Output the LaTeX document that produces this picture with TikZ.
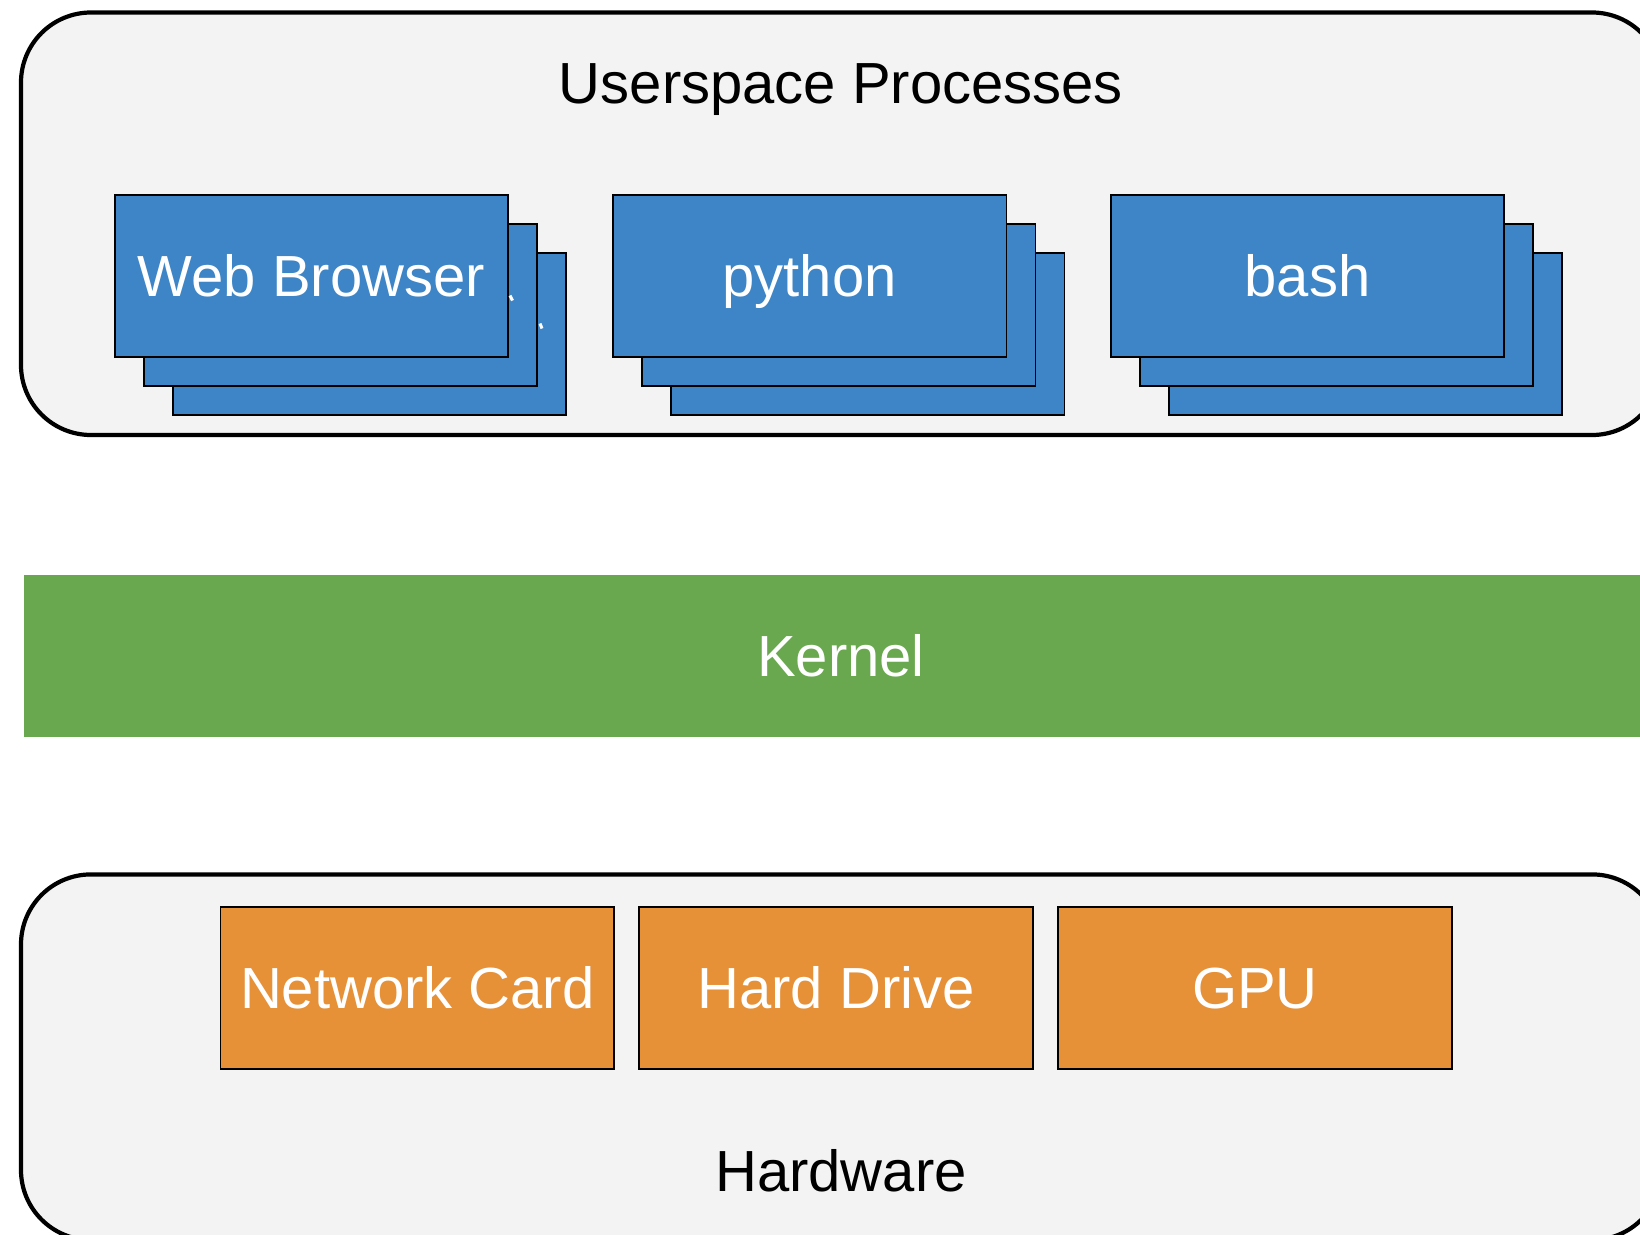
\documentclass[tikz,border=0pt]{standalone}
\usepackage{fontspec}
\setmainfont{Liberation Sans}
\definecolor{procblue}{HTML}{3D85C6}
\definecolor{kgreen}{HTML}{6AA84F}
\definecolor{hworange}{HTML}{E69138}
\definecolor{panelgray}{HTML}{F3F3F3}
\tikzset{
  panel/.style={draw=black, line width=4.2pt, fill=panelgray, rounded corners=70pt,
    inner sep=0pt, outer sep=0pt},
  procbox/.style={draw=black, line width=1.6pt, fill=procblue, text=white,
    minimum width=393.5pt, minimum height=162pt, inner sep=0pt, outer sep=0pt,
    font=\fontsize{58}{68}\selectfont, text height=41.5pt, text depth=0pt},
  hwbox/.style={procbox, fill=hworange},
  kernelbar/.style={fill=kgreen, text=white, minimum width=1634pt, minimum height=161.7pt,
    inner sep=0pt, outer sep=0pt, font=\fontsize{58}{68}\selectfont,
    text height=41.5pt, text depth=0pt},
  title/.style={text=black, inner sep=0pt, font=\fontsize{58}{68}\selectfont,
    text height=41.5pt, text depth=0pt},
  glint/.style={draw=white, line width=3pt}
}
\begin{document}
\begin{tikzpicture}[x=1pt,y=-1pt]
\useasboundingbox (0,0) rectangle (1640,1234);
\clip (0,0) rectangle (1640,1234);
\fill[white] (0,0) rectangle (1640,1234);

% Userspace panel
\node[panel, minimum width=1641pt, minimum height=422.5pt] (user) at (841.5,223.75) {};
\node[title] (usertitle) at (841,83) {Userspace Processes};

% Web Browser stack
\node[procbox] (web3) at (369.5,333.8) {};
\node[procbox] (web2) at (340.5,304.8) {};
\draw[glint] (540,323.5) -- (542,328.5);
\node[procbox] (web1) at (311.5,275.8) {Web Browser};
\draw[glint] (510,295.5) -- (512.5,300.5);

% python stack
\node[procbox] (py3) at (867.6,333.8) {};
\node[procbox] (py2) at (838.6,304.8) {};
\node[procbox] (py1) at (809.6,275.8) {python};

% bash stack
\node[procbox] (bash3) at (1365.5,333.8) {};
\node[procbox] (bash2) at (1336.5,304.8) {};
\node[procbox] (bash1) at (1307.5,275.8) {bash};

% Kernel
\node[kernelbar] (kernel) at (841,656) {Kernel};

% Hardware panel
\node[panel, minimum width=1641pt, minimum height=365.6pt] (hw) at (841.5,1057.2) {};
\node[hwbox] (nic) at (417.3,988) {Network Card};
\node[hwbox] (hdd) at (836,988) {Hard Drive};
\node[hwbox] (gpu) at (1255,988) {GPU};
\node[title] (hwtitle) at (841,1171) {Hardware};
\end{tikzpicture}
\end{document}
